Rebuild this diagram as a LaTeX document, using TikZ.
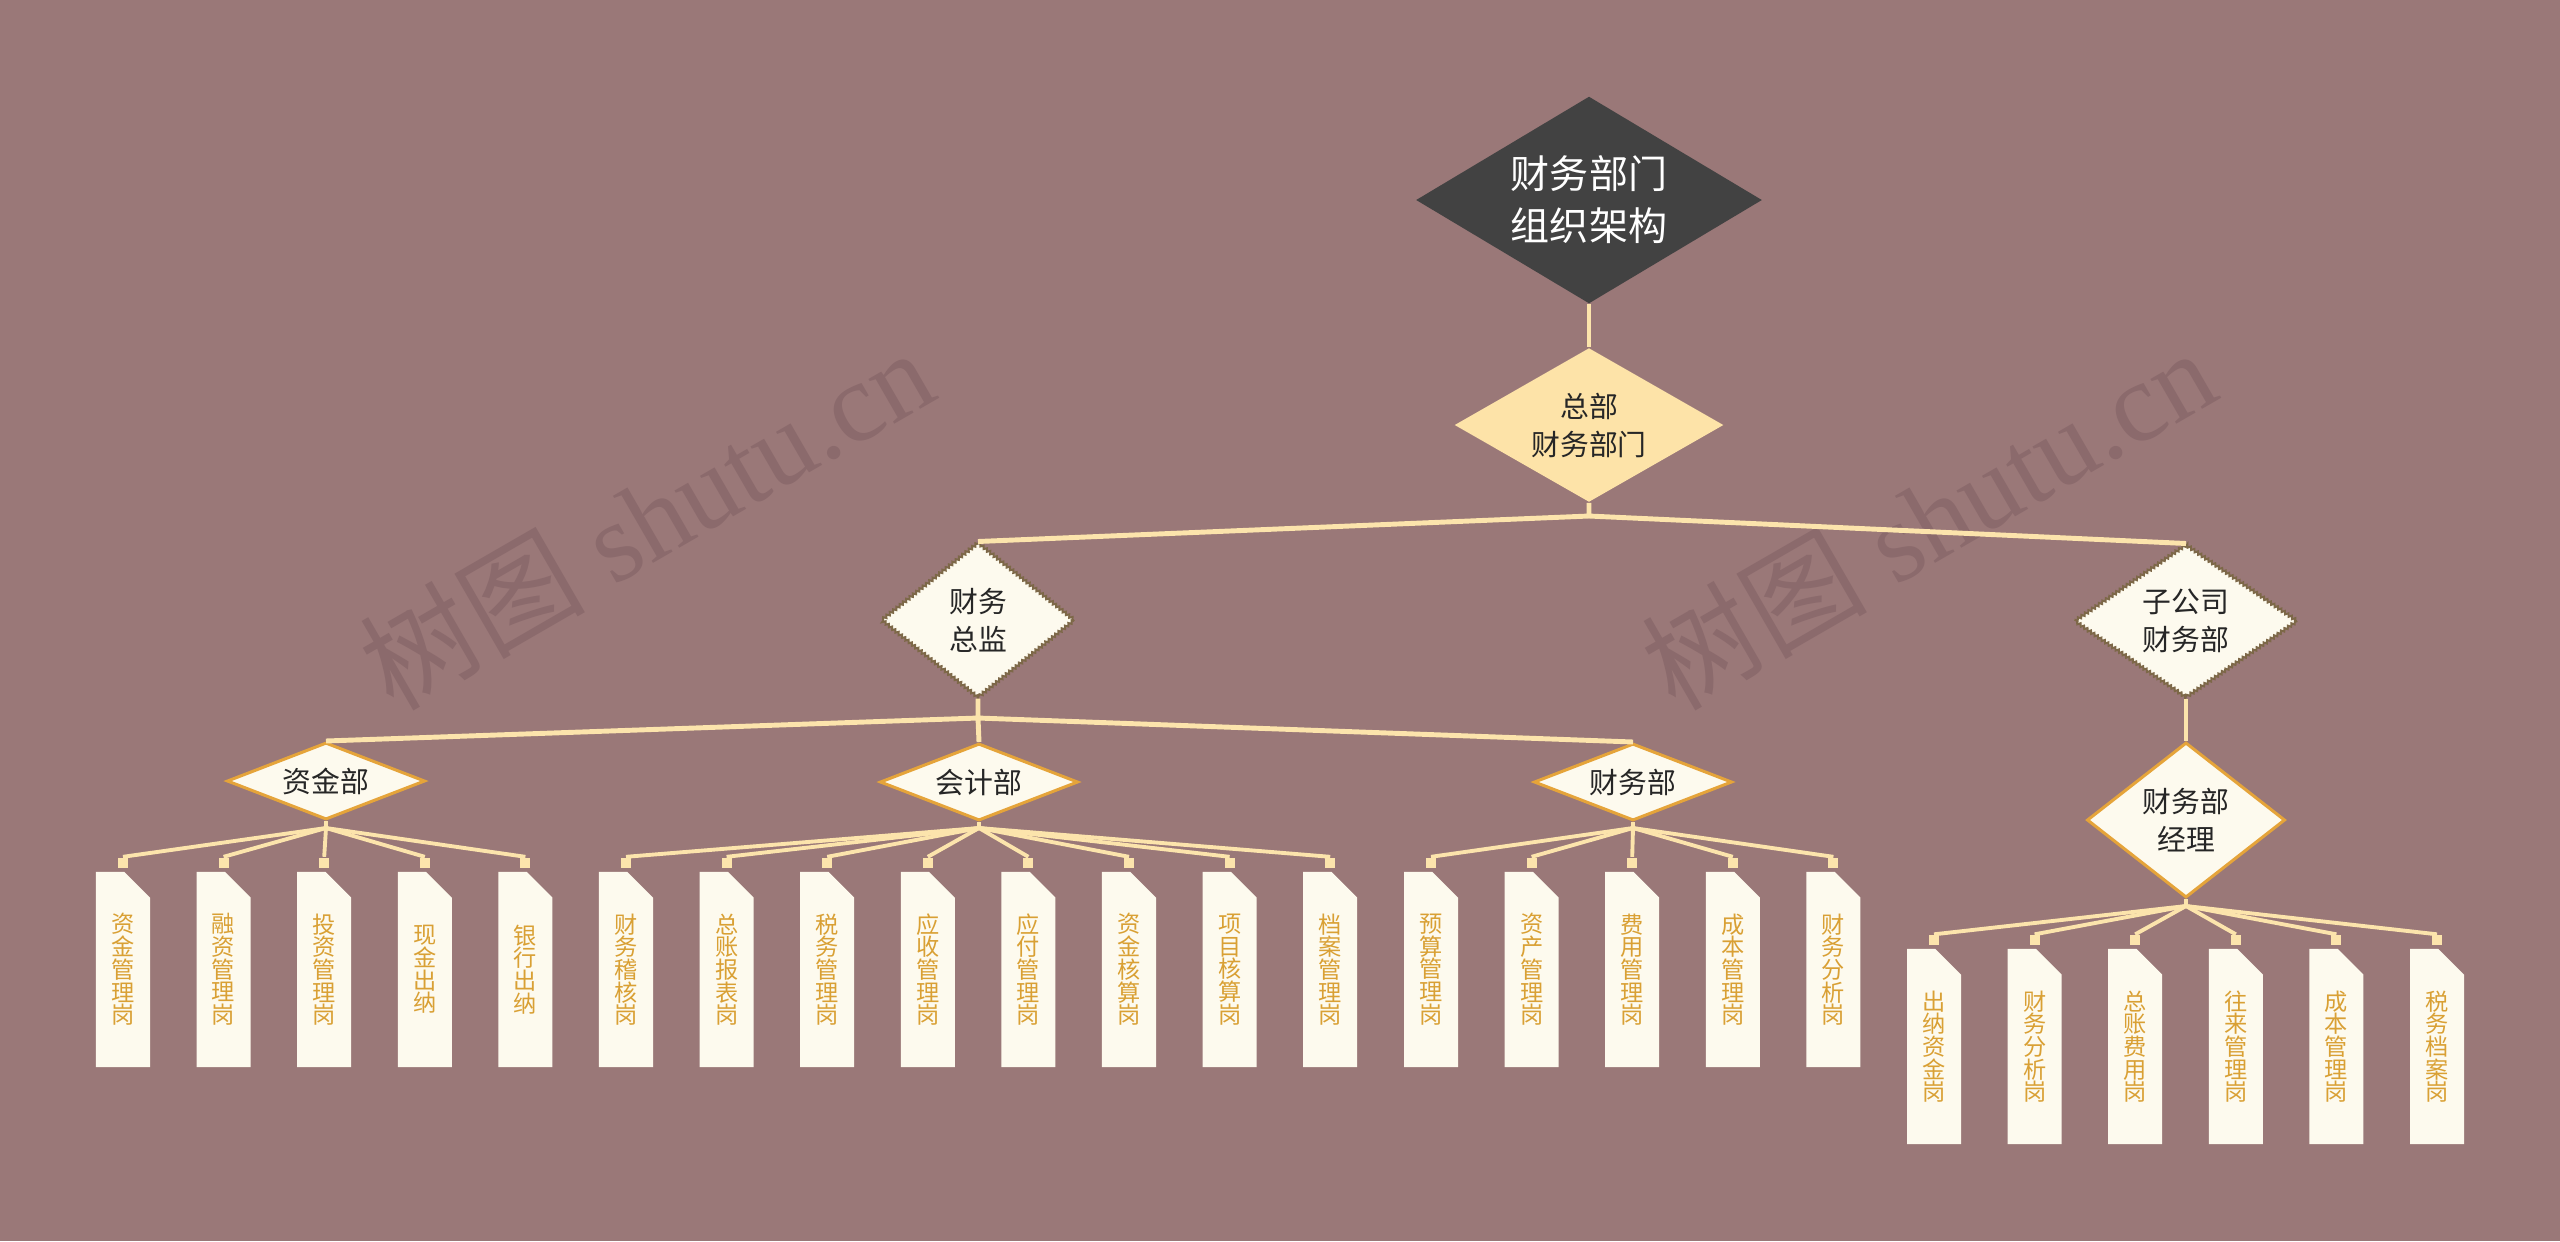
\documentclass[tikz,border=0pt]{standalone}
\usepackage{fontspec}
\usepackage{tikz}
\usetikzlibrary{shapes.geometric,shapes.misc,decorations.pathmorphing}
\newfontfamily\cjk{Noto Sans CJK SC}
\newfontfamily\wmfont{Liberation Serif}
\definecolor{bgc}{HTML}{9A7878}
\definecolor{wmc}{HTML}{8B6A6C}
\definecolor{rootc}{HTML}{424242}
\definecolor{hqc}{HTML}{FDE3A8}
\definecolor{creamc}{HTML}{FDFAEE}
\definecolor{orangec}{HTML}{E5A43A}
\definecolor{brownc}{HTML}{7D6848}
\definecolor{leaftxt}{HTML}{D9A034}
\definecolor{linec}{HTML}{FCE4AC}
\tikzset{
  trunk/.style={draw=linec, line width=1.4pt},
  twig/.style={draw=linec, line width=1.1pt},
  box/.style={diamond, inner sep=0pt, align=center},
  rootbox/.style={box, fill=rootc, text=white, minimum width=3.46cm, minimum height=2.07cm, aspect=1.67,
    font=\cjk\fontsize{11.1pt}{14.8pt}\selectfont},
  hqbox/.style={box, fill=hqc, text=black!85, minimum width=2.69cm, minimum height=1.54cm, aspect=1.75,
    font=\cjk\fontsize{8.2pt}{10.8pt}\selectfont},
  headbox/.style={box, fill=creamc, draw=brownc, line width=0.55pt, text=black!85,
    decorate, decoration={zigzag, segment length=1.2pt, amplitude=0.4pt},
    minimum width=1.93cm, minimum height=1.55cm, aspect=1.25,
    font=\cjk\fontsize{8.2pt}{10.8pt}\selectfont},
  deptbox/.style={box, fill=creamc, draw=orangec, line width=0.85pt, text=black!85,
    minimum width=1.98cm, minimum height=0.77cm, aspect=2.56,
    font=\cjk\fontsize{8.2pt}{10.8pt}\selectfont},
  mgrbox/.style={deptbox, minimum height=1.55cm, aspect=1.28},
  leaf/.style={chamfered rectangle, chamfered rectangle corners=north east,
    chamfered rectangle xsep=0.14cm, chamfered rectangle ysep=0.13cm,
    fill=creamc, inner sep=0pt, minimum width=0.54cm, minimum height=1.95cm,
    text=leaftxt, align=center, font=\cjk\fontsize{6.6pt}{6.45pt}\selectfont},
  stub/.style={rectangle, fill=linec, inner sep=0pt, minimum size=0.1cm}
}
\begin{document}
\begin{tikzpicture}[x=0.01cm,y=-0.01cm]
\fill[bgc, use as bounding box] (0,0) rectangle (2560,1241);
\foreach \wx in {646,1928}
  \node[text=wmc, rotate=30, font=\wmfont\fontsize{32pt}{32pt}\selectfont] (wm\wx) at (\wx,518) {{\cjk 树图} shutu.cn};

\node[rootbox] (root) at (1589,200) {财务部门\\组织架构};
\node[hqbox] (hq) at (1589,425) {总部\\财务部门};
\node[headbox] (cfo) at (978,620) {财务\\总监};
\node[headbox, minimum width=2.23cm, minimum height=1.53cm, aspect=1.46] (sub) at (2186,621) {子公司\\财务部};
\node[deptbox] (fund) at (326,781) {资金部};
\node[deptbox] (acct) at (979,782) {会计部};
\node[deptbox] (fin) at (1633,782) {财务部};
\node[mgrbox] (mgr) at (2186,820) {财务部\\经理};

\coordinate (tj) at (1589,516);
\coordinate (cj) at (978,718);
\coordinate (fj) at (326,828);
\coordinate (aj) at (979,828);
\coordinate (nj) at (1633,828);
\coordinate (mj) at (2186,906);

\draw[trunk] (root) -- (hq);
\draw[trunk] (hq) -- (tj) (tj) -- (cfo.north) (tj) -- (sub.north);
\draw[trunk] (cfo) -- (cj) (cj) -- (fund.north) (cj) -- (fin.north) (cj) -- (acct.north);
\draw[trunk] (sub) -- (mgr);
\draw[twig] (fund) -- (fj) (acct) -- (aj) (fin) -- (nj) (mgr) -- (mj);

\foreach \lbl [count=\i from 0] in {资\\金\\管\\理\\岗,融\\资\\管\\理\\岗,投\\资\\管\\理\\岗,现\\金\\出\\纳,银\\行\\出\\纳} {
  \node[leaf] (fl\i) at (123+100.6*\i,969.5) {\lbl};
  \node[stub] (fs\i) at (123+100.6*\i,862.5) {};
  \draw[twig] (fj) -- (fs\i.north);
}
\foreach \lbl [count=\i from 0] in {财\\务\\稽\\核\\岗,总\\账\\报\\表\\岗,税\\务\\管\\理\\岗,应\\收\\管\\理\\岗,应\\付\\管\\理\\岗,资\\金\\核\\算\\岗,项\\目\\核\\算\\岗,档\\案\\管\\理\\岗} {
  \node[leaf] (al\i) at (626+100.6*\i,969.5) {\lbl};
  \node[stub] (as\i) at (626+100.6*\i,862.5) {};
  \draw[twig] (aj) -- (as\i.north);
}
\foreach \lbl [count=\i from 0] in {预\\算\\管\\理\\岗,资\\产\\管\\理\\岗,费\\用\\管\\理\\岗,成\\本\\管\\理\\岗,财\\务\\分\\析\\岗} {
  \node[leaf] (nl\i) at (1431+100.6*\i,969.5) {\lbl};
  \node[stub] (ns\i) at (1431+100.6*\i,862.5) {};
  \draw[twig] (nj) -- (ns\i.north);
}
\foreach \lbl [count=\i from 0] in {出\\纳\\资\\金\\岗,财\\务\\分\\析\\岗,总\\账\\费\\用\\岗,往\\来\\管\\理\\岗,成\\本\\管\\理\\岗,税\\务\\档\\案\\岗} {
  \node[leaf] (ml\i) at (1934+100.6*\i,1046.5) {\lbl};
  \node[stub] (ms\i) at (1934+100.6*\i,940) {};
  \draw[twig] (mj) -- (ms\i.north);
}
\end{tikzpicture}
\end{document}
